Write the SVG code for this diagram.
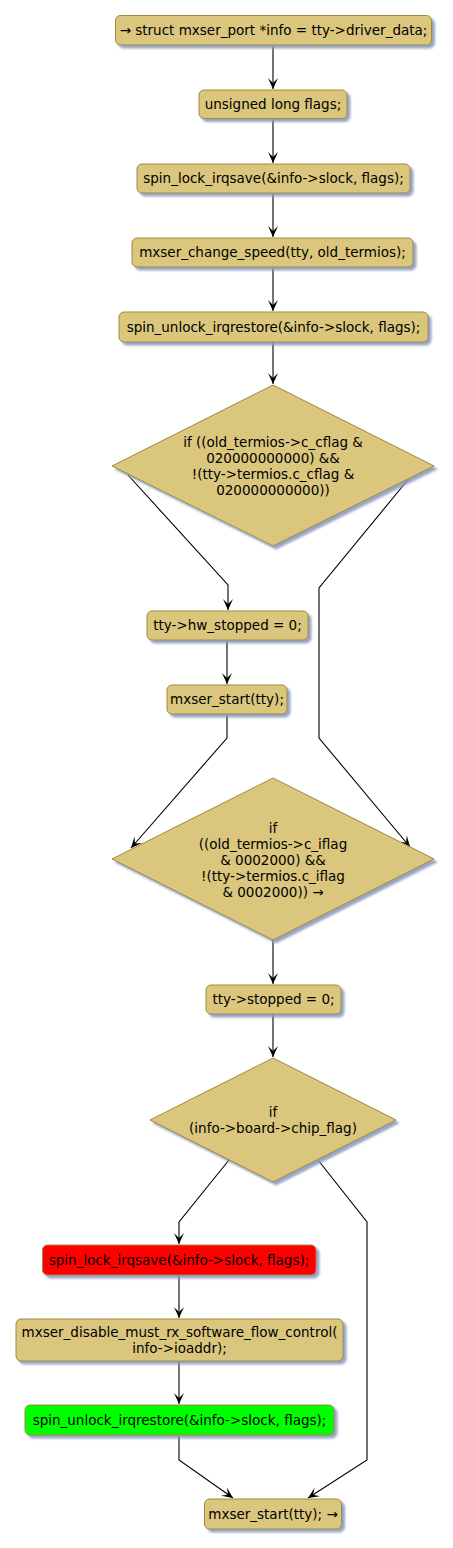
<svg xmlns="http://www.w3.org/2000/svg" width="453" height="1548" viewBox="0 0 453 1548">
<style>
.n{fill:#DBC67D;stroke:#A08A3C;stroke-width:1;filter:url(#sh)}
.r{fill:#FF0000}
.g{fill:#00FF00}
text{font-family:"DejaVu Sans","Liberation Sans",sans-serif;font-size:13.5px;fill:#000;text-anchor:middle}
.c path{fill:none;stroke:#000;stroke-width:1.1;marker-end:url(#ah)}
</style>
<defs>
<filter id="sh" x="-10%" y="-10%" width="130%" height="140%">
<feOffset in="SourceAlpha" dx="3" dy="3" result="o"/>
<feGaussianBlur in="o" stdDeviation="1.2" result="b"/>
<feFlood flood-color="#8C9BBE" flood-opacity="0.9"/>
<feComposite in2="b" operator="in" result="s"/>
<feMerge><feMergeNode in="s"/><feMergeNode in="SourceGraphic"/></feMerge>
</filter>
<marker id="ah" markerUnits="userSpaceOnUse" markerWidth="14" markerHeight="14" refX="11" refY="6" orient="auto" viewBox="0 0 14 12">
<path d="M11,6 L0,1 L5,6 L0,11 Z" fill="#000"/>
</marker>
</defs>
<g class="c" id="connectors">
<path d="M273,45 V89"/>
<path d="M273,118 V163"/>
<path d="M273,193 V237"/>
<path d="M273,267 V311"/>
<path d="M273,342 V384"/>
<path d="M128,475 L228,585 V610"/>
<path d="M411,476 L319,588 V738 L410,847"/>
<path d="M227,640 V684"/>
<path d="M227,714 V738 L131,848"/>
<path d="M273,940 V984"/>
<path d="M273,1014 V1057"/>
<path d="M229,1160 L179,1222 V1244"/>
<path d="M318,1160 L367,1222 V1460 L308,1498"/>
<path d="M179,1275 V1318"/>
<path d="M179,1361 V1404"/>
<path d="M179,1435 V1460 L233,1498"/>
</g>
<g id="n1"><rect class="n" x="115.5" y="15.5" width="316" height="29.5" rx="5"/><text x="273.5" y="35">→ struct mxser_port *info = tty-&gt;driver_data;</text></g>
<g id="n2"><rect class="n" x="199" y="90" width="148" height="28.5" rx="5"/><text x="273" y="108.8">unsigned long flags;</text></g>
<g id="n3"><rect class="n" x="137" y="164" width="273" height="29" rx="5"/><text x="273.5" y="183">spin_lock_irqsave(&amp;info-&gt;slock, flags);</text></g>
<g id="n4"><rect class="n" x="132" y="238" width="281" height="29" rx="5"/><text x="272.5" y="257">mxser_change_speed(tty, old_termios);</text></g>
<g id="n5"><rect class="n" x="119" y="312" width="309" height="30" rx="5"/><text x="273.5" y="331.5">spin_unlock_irqrestore(&amp;info-&gt;slock, flags);</text></g>
<g id="d1"><polygon class="n" points="273,385 434,466 273,546 112,466"/>
<text x="273" y="446.6">if ((old_termios-&gt;c_cflag &amp;</text>
<text x="273" y="462.6">020000000000) &amp;&amp;</text>
<text x="273" y="478.6">!(tty-&gt;termios.c_cflag &amp;</text>
<text x="273" y="494.6">020000000000))</text></g>
<g id="n6"><rect class="n" x="147" y="611" width="161" height="29" rx="5"/><text x="227.5" y="630">tty-&gt;hw_stopped = 0;</text></g>
<g id="n7"><rect class="n" x="167" y="685" width="120" height="29" rx="5"/><text x="227" y="704">mxser_start(tty);</text></g>
<g id="d2"><polygon class="n" points="273,778 434,859 273,940 112,859"/>
<text x="273" y="832.6">if</text>
<text x="273" y="848.6">((old_termios-&gt;c_iflag</text>
<text x="273" y="864.6">&amp; 0002000) &amp;&amp;</text>
<text x="273" y="880.6">!(tty-&gt;termios.c_iflag</text>
<text x="273" y="896.6">&amp; 0002000)) →</text></g>
<g id="n8"><rect class="n" x="206" y="985" width="135" height="29" rx="5"/><text x="273.5" y="1004">tty-&gt;stopped = 0;</text></g>
<g id="d3"><polygon class="n" points="273,1058 396,1120 273,1182 150,1120"/>
<text x="273" y="1116.6">if</text>
<text x="273" y="1132.6">(info-&gt;board-&gt;chip_flag)</text></g>
<g id="n9"><rect class="n r" x="42.5" y="1245" width="273.5" height="30" rx="5"/><text x="179" y="1264.5">spin_lock_irqsave(&amp;info-&gt;slock, flags);</text></g>
<g id="n10"><rect class="n" x="16" y="1319" width="327" height="42" rx="5"/><text x="179.5" y="1336.6">mxser_disable_must_rx_software_flow_control(</text><text x="179.5" y="1352.6">info-&gt;ioaddr);</text></g>
<g id="n11"><rect class="n g" x="25" y="1405" width="309" height="30" rx="5"/><text x="179.5" y="1424.5">spin_unlock_irqrestore(&amp;info-&gt;slock, flags);</text></g>
<g id="n12"><rect class="n" x="204.5" y="1499" width="137" height="30" rx="5"/><text x="273" y="1518.5">mxser_start(tty); →</text></g>
</svg>
